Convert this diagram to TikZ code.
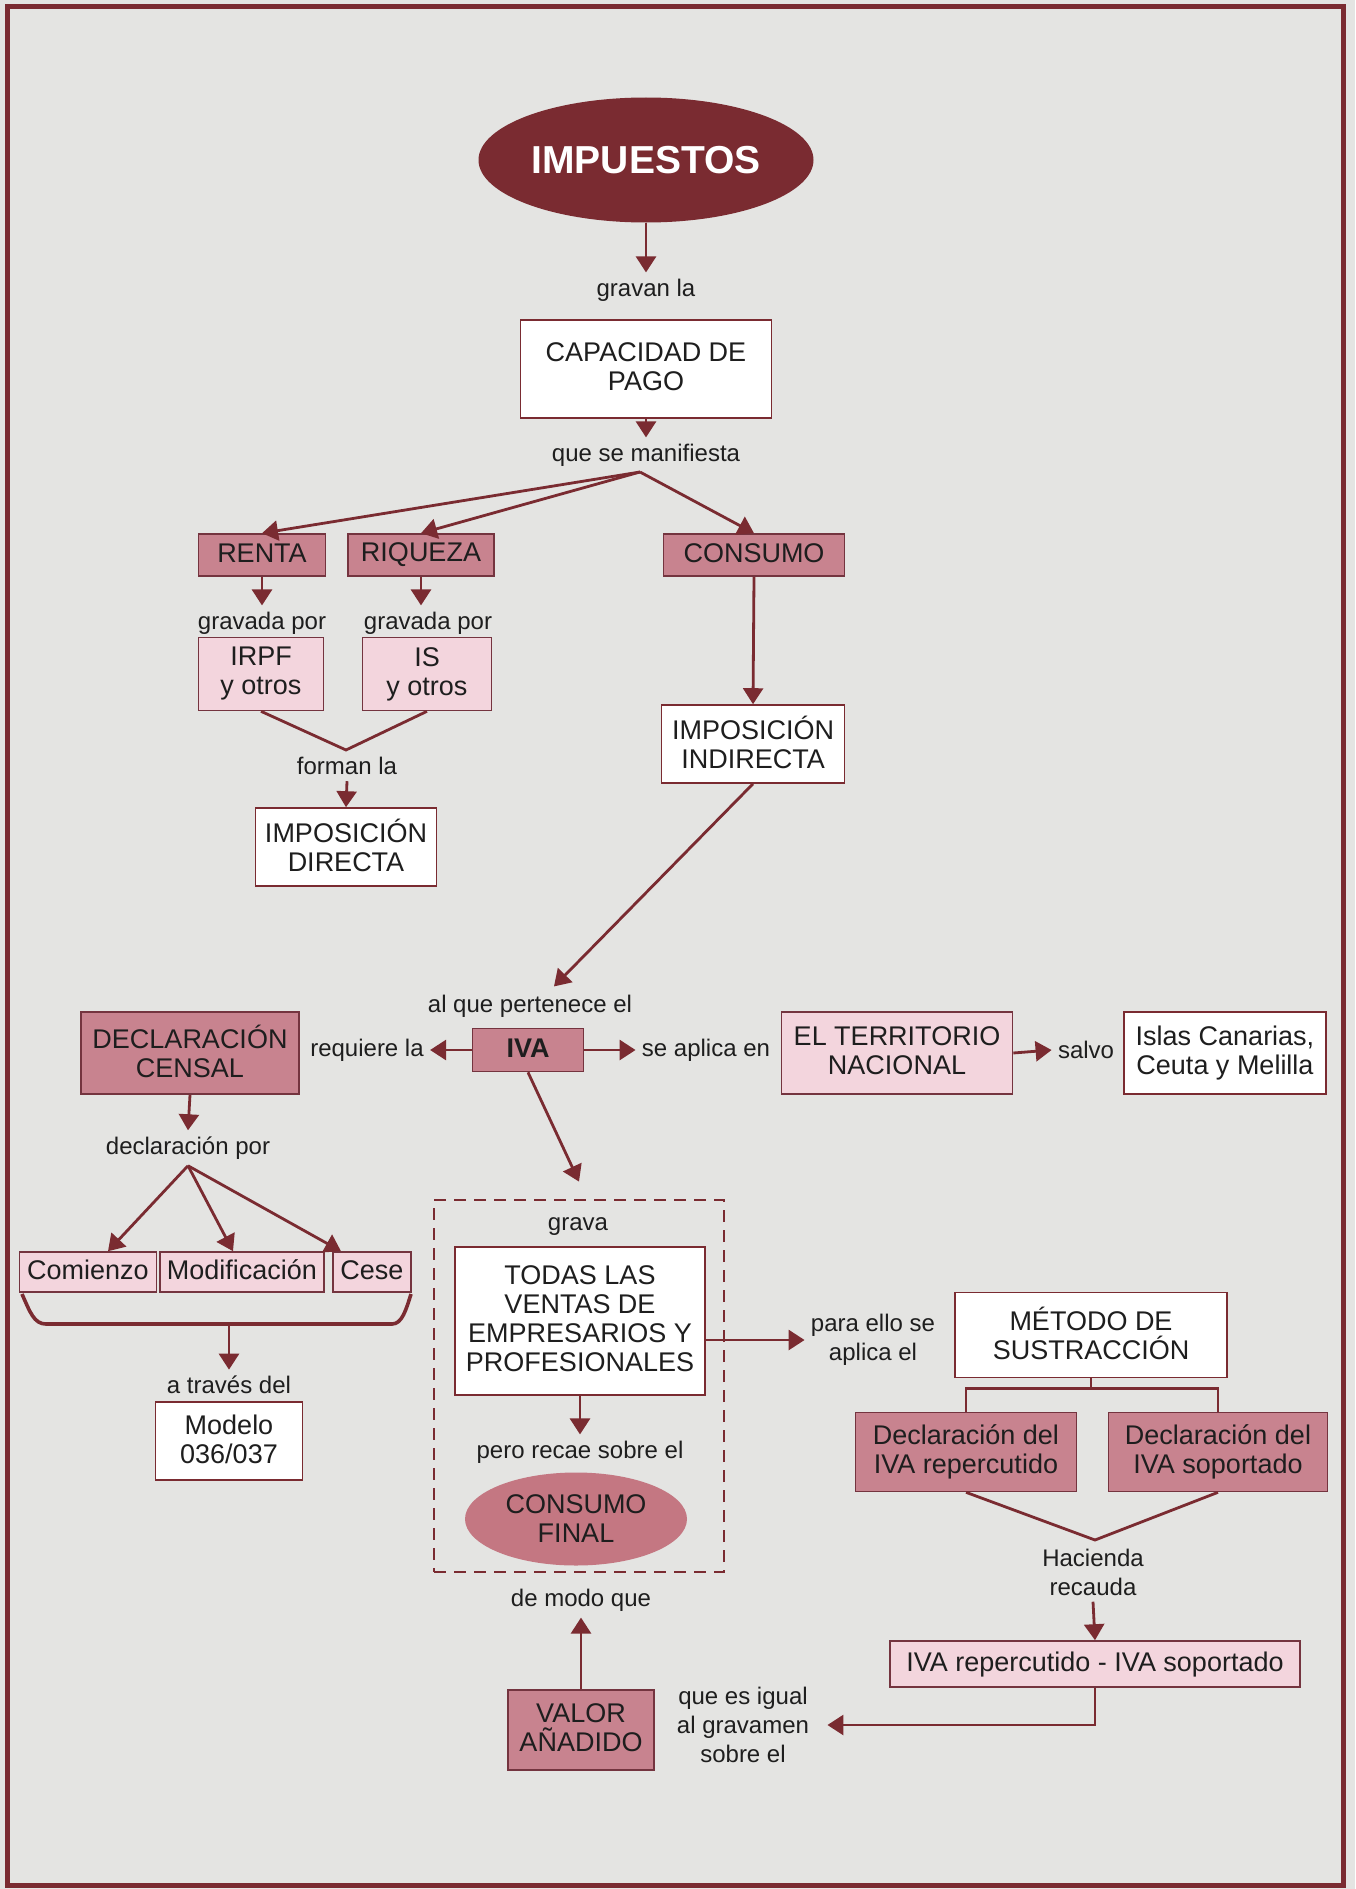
\documentclass[tikz,border=0pt]{standalone}
\usepackage{fontspec}
\setmainfont{Liberation Sans}
\usetikzlibrary{shapes.geometric,arrows.meta,calc}
\definecolor{dred}{HTML}{7A2B31}
\definecolor{mpink}{HTML}{C8838F}
\definecolor{lpink}{HTML}{F3D5DD}
\definecolor{bord}{HTML}{74343F}
\definecolor{bgc}{HTML}{E4E4E2}
\definecolor{ink}{HTML}{1E1E1E}
\definecolor{ellpink}{HTML}{C47782}
\newcommand\capstrut{\rule[-2pt]{0pt}{11.5pt}}
\begin{document}
\begin{tikzpicture}[x=0.5pt,y=-0.5pt,
  box/.style={draw=bord, line width=0.8pt, inner sep=0pt, align=center, text=ink, font=\fontsize{13.5}{14.5}\selectfont, execute at begin node=\capstrut, execute at end node=\capstrut},
  mbox/.style={box, fill=mpink},
  lbox/.style={box, fill=lpink},
  wbox/.style={box, fill=white, draw=dred},
  lbl/.style={inner sep=3pt, align=center, text=ink, font=\fontsize{12}{14.5}\selectfont},
  arr/.style={draw=dred, line width=1.4pt, -{Triangle[length=8pt,width=10pt]}},
  ln/.style={draw=dred, line width=1.4pt},
]
\useasboundingbox (0,0) rectangle (1355,1889);
\fill[bgc] (0,0) rectangle (1355,1889);
\draw[dred, line width=2.5pt] (7,7) rectangle (1343,1885);

% top
\node[ellipse, fill=dred, inner sep=0pt, minimum width=167.5pt, minimum height=62.5pt, text=white, font=\fontsize{19.5}{21}\selectfont\bfseries] (imp) at (646,160) {IMPUESTOS};
\node[lbl] (gravan) at (646,290) {gravan la};
\node[wbox, minimum width=125.5pt, minimum height=49pt] (cap) at (646,369) {CAPACIDAD DE\\PAGO};
\node[lbl] (manif) at (646,455) {que se manifiesta};
\coordinate (fan) at (640,472);

\node[mbox, minimum width=63.5pt, minimum height=21pt] (renta) at (262,555) {RENTA};
\node[mbox, minimum width=73pt, minimum height=21pt] (riq) at (421,555) {RIQUEZA};
\node[mbox, minimum width=90.5pt, minimum height=21pt] (cons) at (754,555) {CONSUMO};
\node[lbl] (grav1) at (262,623) {gravada por};
\node[lbl] (grav2) at (428,623) {gravada por};
\node[lbox, minimum width=62.5pt, minimum height=36.5pt] (irpf) at (261,674) {IRPF\\y otros};
\node[lbox, minimum width=64.5pt, minimum height=36.5pt] (is) at (427,674) {IS\\y otros};
\coordinate (vap) at (346,750);
\node[lbl] (forman) at (347,766) {forman la};
\node[wbox, minimum width=90.5pt, minimum height=39pt] (impdir) at (346,847) {IMPOSICIÓN\\DIRECTA};
\node[wbox, minimum width=91.5pt, minimum height=39pt] (impind) at (753,744) {IMPOSICIÓN\\INDIRECTA};

% IVA row
\node[lbl] (pert) at (530,1006) {al que pertenece el};
\node[mbox, minimum width=55.5pt, minimum height=21.5pt, font=\fontsize{13.5}{14.5}\selectfont\bfseries] (iva) at (528,1050) {IVA};
\node[lbl] (req) at (367,1050) {requiere la};
\node[lbl] (aplica) at (706,1050) {se aplica en};
\node[lbox, minimum width=115.5pt, minimum height=41pt] (terr) at (897,1053) {EL TERRITORIO\\NACIONAL};
\node[lbl] (salvo) at (1086,1050) {salvo};
\node[wbox, minimum width=101pt, minimum height=41pt] (islas) at (1225,1053) {Islas Canarias,\\Ceuta y Melilla};
\node[mbox, minimum width=109pt, minimum height=41pt] (decl) at (190,1053) {DECLARACIÓN\\CENSAL};

% left column
\node[lbl] (declpor) at (188,1148) {declaración por};
\node[lbox, minimum width=68.5pt, minimum height=20pt] (com) at (88,1272) {Comienzo};
\node[lbox, minimum width=82pt, minimum height=20pt] (modi) at (242,1272) {Modificación};
\node[lbox, minimum width=39pt, minimum height=20pt] (cese) at (372,1272) {Cese};
\coordinate (brk) at (229,1324);
\node[lbl] (atraves) at (229,1385) {a través del};
\node[wbox, minimum width=73.5pt, minimum height=39pt] (modelo) at (229,1441) {Modelo\\036/037};

% middle column
\node[draw=dred, line width=1.4pt, dash pattern=on 6pt off 4pt, minimum width=145pt, minimum height=186pt, inner sep=0pt] (dash) at (579,1386) {};
\node[lbl] (grava) at (578,1227) {grava};
\node[wbox, minimum width=125pt, minimum height=74pt] (todas) at (580,1321) {TODAS LAS\\VENTAS DE\\EMPRESARIOS Y\\PROFESIONALES};
\node[lbl] (pero) at (580,1452) {pero recae sobre el};
\node[ellipse, fill=ellpink, inner sep=0pt, minimum width=111pt, minimum height=46.5pt, align=center, text=ink, font=\fontsize{13.5}{14.5}\selectfont] (cfin) at (576,1519) {CONSUMO\\FINAL};
\node[lbl] (modo) at (581,1600) {de modo que};
\node[mbox, minimum width=73pt, minimum height=40pt] (valor) at (581,1730) {VALOR\\AÑADIDO};
\node[lbl] (igual) at (743,1725) {que es igual\\al gravamen\\sobre el};

% right column
\node[lbl] (para) at (873,1340) {para ello se\\aplica el};
\node[wbox, minimum width=136pt, minimum height=42.5pt] (metodo) at (1091,1335) {MÉTODO DE\\SUSTRACCIÓN};
\node[mbox, minimum width=110.5pt, minimum height=39.5pt] (declrep) at (966,1452) {Declaración del\\IVA repercutido};
\node[mbox, minimum width=109.5pt, minimum height=39.5pt] (declsop) at (1218,1452) {Declaración del\\IVA soportado};
\coordinate (hap) at (1095,1540);
\node[lbl] (hac) at (1093,1572) {Hacienda\\recauda};
\node[lbox, minimum width=205pt, minimum height=23pt] (ivadiff) at (1095,1664) {IVA repercutido - IVA soportado};

% connectors
\draw[arr] (imp.south) -- (gravan.north);
\draw[arr] (cap.south) -- (manif.north);
\draw[arr] (fan) -- (renta.north);
\draw[arr] (fan) -- (riq.north);
\draw[arr] (fan) -- (cons.north);
\draw[arr] (renta.south) -- (grav1.north);
\draw[arr] (riq.south) -- (riq.south |- grav2.north);
\draw[ln] (irpf.south) -- (vap) -- (is.south);
\draw[arr] (forman.south) -- (impdir.north);
\draw[arr] (cons.south) -- (impind.north);
\draw[arr] (impind.south) -- ($(pert.north)+(24,-2)$);
\draw[arr] (iva.west) -- (req.east);
\draw[arr] (iva.east) -- (aplica.west);
\draw[arr] (terr.east) -- (salvo.west);
\draw[arr] (decl.south) -- (declpor.north);
\draw[arr] (declpor.south) -- ($(com.north)+(20,0)$);
\draw[arr] (declpor.south) -- ($(modi.north)+(-9,0)$);
\draw[arr] (declpor.south) -- ($(cese.north)+(-31,0)$);
\draw[dred, line width=1.8pt] (22,1294) .. controls (30,1312) and (34,1324) .. (46,1324) -- (392,1324) .. controls (402,1324) and (406,1310) .. (411,1294);
\draw[arr] (brk) -- (atraves.north);
\draw[arr] (iva.south) -- ($(dash.north)+(0,-17)$);
\draw[arr] (todas.east |- para.west) -- (para.west);
\draw[arr] (todas.south) -- (pero.north);
\draw[arr] (valor.north) -- (modo.south);
\draw[ln] (metodo.south) -- ($(metodo.south)+(0,10)$);
\draw[ln] (declrep.north) |- ($(metodo.south)+(0,10)$) -| (declsop.north);
\draw[ln] (declrep.south) -- (hap) -- (declsop.south);
\draw[arr] (hac.south) -- (ivadiff.north);
\draw[arr] (ivadiff.south) |- ($(igual.east)+(12,0)$);
\end{tikzpicture}
\end{document}
